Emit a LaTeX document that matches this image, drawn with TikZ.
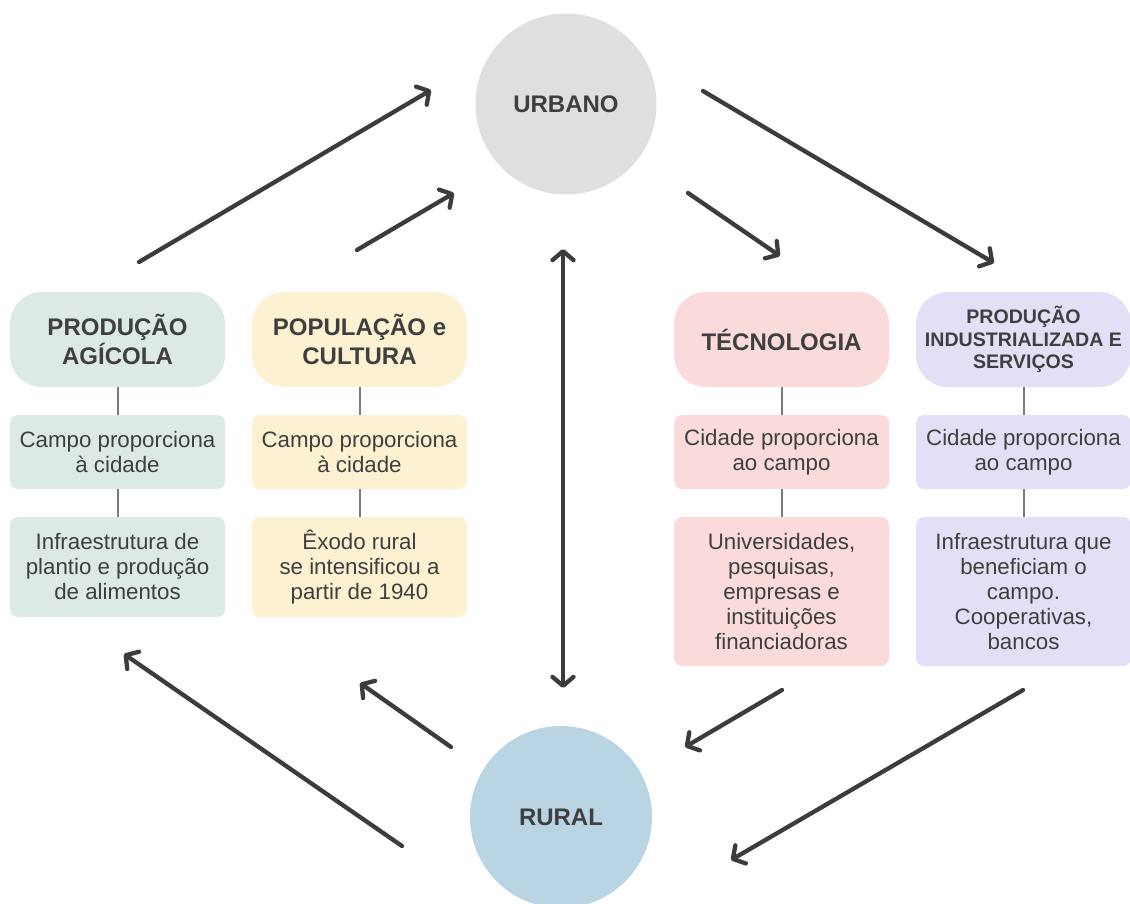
\documentclass[tikz,border=0pt]{standalone}
\usepackage{fontspec}
\setmainfont{Liberation Sans}
\usetikzlibrary{arrows.meta}
\definecolor{ink}{HTML}{3F3F3F}
\definecolor{arrowc}{HTML}{3C3C3C}
\definecolor{linkgray}{HTML}{7A7A7A}
\definecolor{cgreen}{HTML}{DCE9E4}
\definecolor{cyellow}{HTML}{FCF1D1}
\definecolor{cpink}{HTML}{FADADB}
\definecolor{clav}{HTML}{E4DFF7}
\definecolor{cgray}{HTML}{DFDFDF}
\definecolor{cblue}{HTML}{B9D5E3}
\tikzset{
  headbox/.style={rounded corners=32pt, minimum width=215pt, minimum height=95pt, inner sep=0pt, align=center, text=ink, font=\fontsize{24}{29}\selectfont\bfseries},
  midbox/.style={rounded corners=8pt, minimum width=215pt, minimum height=74pt, inner sep=0pt, align=center, text=ink, font=\fontsize{22.3}{25}\selectfont},
  lowbox/.style={midbox, minimum height=100pt},
  tallbox/.style={midbox, minimum height=149pt},
  hub/.style={circle, inner sep=0pt, text=ink, font=\fontsize{24}{29}\selectfont\bfseries},
  link/.style={draw=linkgray, line width=2pt},
  arr/.style={draw=arrowc, line width=4.3pt, line cap=round, -{Straight Barb[length=9pt,width=21pt,round]}},
  darr/.style={draw=arrowc, line width=4.3pt, line cap=round, {Straight Barb[length=9pt,width=21pt,round]}-{Straight Barb[length=9pt,width=21pt,round]}}
}
\begin{document}
\begin{tikzpicture}[x=1pt,y=-1pt]
\useasboundingbox[fill=white] (0,0) rectangle (1130,903);

% hubs
\node[hub, fill=cgray, minimum size=181pt] (urb) at (566,104) {URBANO};
\node[hub, fill=cblue, minimum size=182pt] (rur) at (561,817) {RURAL};

% column A
\node[headbox, fill=cgreen] (ah) at (117.5,339.5) {PRODUÇÃO\\AGÍCOLA};
\node[midbox, fill=cgreen] (am) at (117.5,452) {Campo proporciona\\à cidade};
\node[lowbox, fill=cgreen] (al) at (117.5,567) {Infraestrutura de\\plantio e produção\\de alimentos};
% column B
\node[headbox, fill=cyellow] (bh) at (359.5,339.5) {POPULAÇÃO e\\CULTURA};
\node[midbox, fill=cyellow] (bm) at (359.5,452) {Campo proporciona\\à cidade};
\node[lowbox, fill=cyellow] (bl) at (359.5,567) {Êxodo rural\\se intensificou a\\partir de 1940};
% column C
\node[headbox, fill=cpink] (ch) at (781.5,339.5) {TÉCNOLOGIA};
\node[midbox, fill=cpink] (cm) at (781.5,452) {Cidade proporciona\\ao campo};
\node[tallbox, fill=cpink] (cl) at (781.5,591.5) {Universidades,\\pesquisas,\\empresas e\\instituições\\financiadoras};
% column D
\node[headbox, fill=clav, font=\fontsize{19.6}{22.5}\selectfont\bfseries] (dh) at (1023.5,339.5) {PRODUÇÃO\\INDUSTRIALIZADA E\\SERVIÇOS};
\node[midbox, fill=clav] (dm) at (1023.5,452) {Cidade proporciona\\ao campo};
\node[tallbox, fill=clav] (dl) at (1023.5,591.5) {Infraestrutura que\\beneficiam o\\campo.\\Cooperativas,\\bancos};

% links
\draw[link] (ah) -- (am);
\draw[link] (am) -- (al);
\draw[link] (bh) -- (bm);
\draw[link] (bm) -- (bl);
\draw[link] (ch) -- (cm);
\draw[link] (cm) -- (cl);
\draw[link] (dh) -- (dm);
\draw[link] (dm) -- (dl);

% arrow end points
\coordinate (a1s) at (139,262);  \coordinate (a1e) at (431,90);
\coordinate (a2s) at (357,250);  \coordinate (a2e) at (454,193);
\coordinate (a3s) at (563,249);  \coordinate (a3e) at (563,688);
\coordinate (a4s) at (688,193);  \coordinate (a4e) at (780,256);
\coordinate (a5s) at (703,91);   \coordinate (a5e) at (994,263);
\coordinate (a6s) at (782,690);  \coordinate (a6e) at (685,747);
\coordinate (a7s) at (1023,690); \coordinate (a7e) at (731,860);
\coordinate (a8s) at (451,747);  \coordinate (a8e) at (360,683);
\coordinate (a9s) at (402,846);  \coordinate (a9e) at (124,654);

\draw[arr] (a1s) -- (a1e);
\draw[arr] (a2s) -- (a2e);
\draw[darr] (a3s) -- (a3e);
\draw[arr] (a4s) -- (a4e);
\draw[arr] (a5s) -- (a5e);
\draw[arr] (a6s) -- (a6e);
\draw[arr] (a7s) -- (a7e);
\draw[arr] (a8s) -- (a8e);
\draw[arr] (a9s) -- (a9e);
\end{tikzpicture}
\end{document}
